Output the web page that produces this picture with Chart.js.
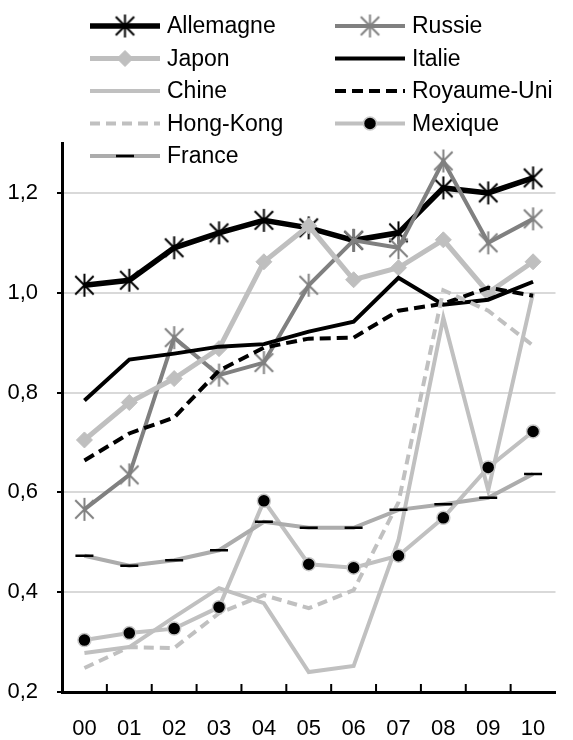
<!DOCTYPE html>
<html>
<head>
<meta charset="utf-8">
<script src="https://cdn.jsdelivr.net/npm/chart.js@4.4.1/dist/chart.umd.min.js"></script>
<style>
  html, body { margin: 0; padding: 0; background: #fff; }
  #wrap { width: 573px; height: 740px; position: relative; }
</style>
</head>
<body>
<div id="wrap"><canvas id="lineChart"></canvas></div>
<script>
const years = ['00', '01', '02', '03', '04', '05', '06', '07', '08', '09', '10'];
const yTicks = [0.2, 0.4, 0.6, 0.8, 1.0, 1.2];

const allemagne  = [1.015, 1.025, 1.09, 1.12, 1.145, 1.13, 1.105, 1.12, 1.21, 1.20, 1.23];
const russie     = [0.566, 0.635, 0.91, 0.835, 0.86, 1.015, 1.105, 1.09, 1.264, 1.10, 1.148];
const japon      = [0.705, 0.78, 0.828, 0.888, 1.062, 1.134, 1.026, 1.05, 1.106, 1.0, 1.062];
const italie     = [0.784, 0.866, 0.878, 0.892, 0.897, 0.922, 0.942, 1.03, 0.976, 0.986, 1.022];
const chine      = [0.278, 0.29, 0.35, 0.408, 0.378, 0.24, 0.252, 0.504, 0.95, 0.604, 1.0];
const royaumeUni = [0.664, 0.718, 0.75, 0.844, 0.89, 0.908, 0.91, 0.964, 0.978, 1.01, 0.994];
const hongKong   = [0.248, 0.29, 0.288, 0.358, 0.394, 0.368, 0.404, 0.58, 1.005, 0.964, 0.894];
const mexique    = [0.304, 0.318, 0.327, 0.37, 0.583, 0.456, 0.449, 0.473, 0.549, 0.65, 0.722];
const france     = [0.473, 0.453, 0.464, 0.484, 0.541, 0.529, 0.529, 0.565, 0.576, 0.589, 0.637];

const FONT = "'Liberation Sans', Arial, sans-serif";

// asterisk marker: X plus a vertical stroke
function makeStar(color, size, lw) {
    const c = document.createElement('canvas');
    c.width = size; c.height = size;
    const g = c.getContext('2d');
    const m = size / 2, r = size / 2 - 1;
    g.strokeStyle = color;
    g.lineWidth = lw;
    g.beginPath();
    g.moveTo(m, m - r); g.lineTo(m, m + r);
    const d = r * 0.8;
    g.moveTo(m - d, m - d); g.lineTo(m + d, m + d);
    g.moveTo(m - d, m + d); g.lineTo(m + d, m - d);
    g.stroke();
    return c;
}

const starBlack = makeStar('#000', 25, 2);
const starGray = makeStar('#808080', 25, 2);

function series(label, data, opts) {
    return Object.assign({
        label: label,
        data: data,
        fill: false,
        tension: 0,
        pointRadius: 0,
        pointHoverRadius: 0,
        borderCapStyle: 'butt'
    }, opts);
}

const datasets = [
    series('Allemagne', allemagne, { borderColor: '#000', borderWidth: 5.5, pointStyle: starBlack, pointRadius: 12 }),
    series('Russie', russie, { borderColor: '#808080', borderWidth: 4, pointStyle: starGray, pointRadius: 12 }),
    series('Japon', japon, { borderColor: '#bfbfbf', borderWidth: 5, pointStyle: 'rectRot', pointRadius: 8,
        pointBackgroundColor: '#bfbfbf', pointBorderColor: '#bfbfbf', pointBorderWidth: 1 }),
    series('Italie', italie, { borderColor: '#000', borderWidth: 4 }),
    series('Chine', chine, { borderColor: '#c0c0c0', borderWidth: 4 }),
    series('Royaume-Uni', royaumeUni, { borderColor: '#000', borderWidth: 4, borderDash: [11, 6] }),
    series('Hong-Kong', hongKong, { borderColor: '#c0c0c0', borderWidth: 4, borderDash: [10, 6] }),
    series('Mexique', mexique, { borderColor: '#c0c0c0', borderWidth: 4, pointStyle: 'circle', pointRadius: 6.5,
        pointBackgroundColor: '#000', pointBorderColor: '#c8c8c8', pointBorderWidth: 1.5 }),
    series('France', france, { borderColor: '#acacac', borderWidth: 4, pointStyle: 'line', pointRadius: 9,
        pointBorderColor: '#000', pointBorderWidth: 2.5 })
];
// later series drawn on top, like the original
datasets.forEach((ds, i) => { ds.order = datasets.length - i; });

// two-column legend drawn over the top of the plot
const legendPlugin = {
    id: 'twoColLegend',
    afterDraw(chart) {
        const ctx = chart.ctx;
        const colX = [90, 335];
        ctx.save();
        datasets.forEach((ds, i) => {
            const x0 = colX[i % 2];
            const y = 26 + Math.floor(i / 2) * 32.5;
            ctx.strokeStyle = ds.borderColor;
            ctx.lineWidth = ds.borderWidth;
            ctx.setLineDash(ds.borderDash || []);
            ctx.beginPath();
            ctx.moveTo(x0, y);
            ctx.lineTo(x0 + 70, y);
            ctx.stroke();
            ctx.setLineDash([]);
            if (ds.pointRadius > 0) {
                ctx.fillStyle = ds.pointBackgroundColor || ds.borderColor;
                ctx.strokeStyle = ds.pointBorderColor || ds.borderColor;
                ctx.lineWidth = ds.pointBorderWidth || 1;
                Chart.helpers.drawPoint(ctx, {
                    pointStyle: ds.pointStyle,
                    radius: ds.pointRadius,
                    borderWidth: ds.pointBorderWidth || 1,
                    rotation: 0
                }, x0 + 35, y);
            }
            ctx.fillStyle = '#000';
            ctx.font = '23px ' + FONT;
            ctx.textAlign = 'left';
            ctx.textBaseline = 'middle';
            ctx.fillText(ds.label, x0 + 77, y + 1);
        });
        ctx.restore();
    }
};

// short tick marks pointing up from the x axis, between categories
const xTickPlugin = {
    id: 'innerTicks',
    afterDatasetsDraw(chart) {
        const xs = chart.scales.x;
        const bottom = chart.chartArea.bottom;
        const ctx = chart.ctx;
        ctx.save();
        ctx.strokeStyle = '#000';
        ctx.lineWidth = 2;
        ctx.beginPath();
        for (let i = 1; i < years.length; i++) {
            const x = (xs.getPixelForValue(i - 1) + xs.getPixelForValue(i)) / 2;
            ctx.moveTo(x, bottom);
            ctx.lineTo(x, bottom - 8);
        }
        ctx.stroke();
        ctx.restore();
    }
};

const ctx = document.getElementById('lineChart').getContext('2d');
const myLineChart = new Chart(ctx, {
    type: 'line',
    data: { labels: years, datasets: datasets },
    plugins: [xTickPlugin, legendPlugin],
    options: {
        responsive: true,
        maintainAspectRatio: false,
        animation: false,
        layout: { padding: { top: 143, right: 0, left: 0, bottom: 0 } },
        plugins: {
            legend: { display: false },
            tooltip: { enabled: false }
        },
        scales: {
            x: {
                offset: true,
                grid: { display: false },
                border: { display: true, color: '#000', width: 3 },
                ticks: {
                    color: '#000',
                    font: { family: FONT, size: 22 },
                    padding: 16,
                    maxRotation: 0
                },
                afterFit(scale) { scale.height = 48; }
            },
            y: {
                min: 0.2,
                max: 1.3,
                afterBuildTicks(scale) {
                    scale.ticks = yTicks.map(v => ({ value: v }));
                },
                grid: {
                    color: '#d9d9d9',
                    lineWidth: 2,
                    tickColor: '#000',
                    tickLength: 5
                },
                border: { display: true, color: '#000', width: 3 },
                ticks: {
                    color: '#000',
                    font: { family: FONT, size: 22 },
                    padding: 19,
                    callback: v => v.toFixed(1).replace('.', ',')
                },
                afterFit(scale) { scale.width = 62; }
            }
        }
    }
});
</script>
</body>
</html>
